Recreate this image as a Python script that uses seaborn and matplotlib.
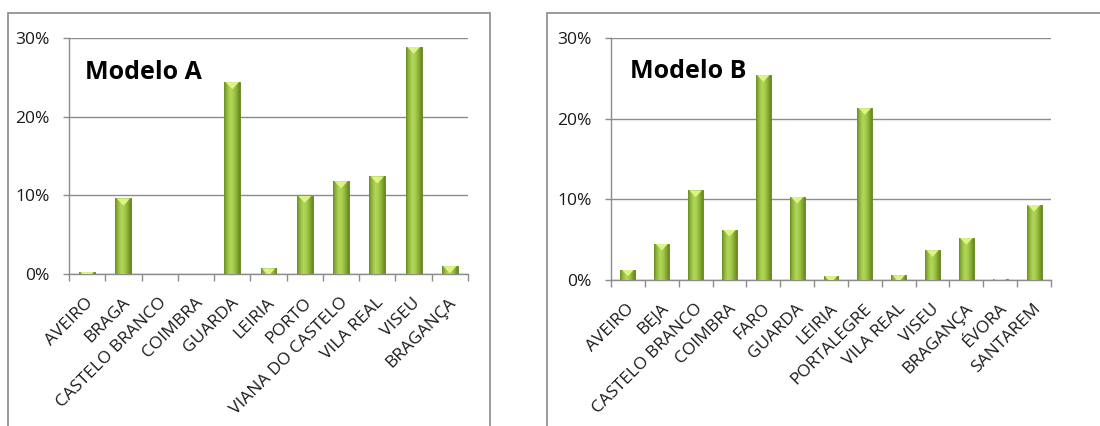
import numpy as np
import pandas as pd
import matplotlib
matplotlib.use("Agg")
import matplotlib.pyplot as plt
from matplotlib.colors import LinearSegmentedColormap
from matplotlib.patches import Polygon, Rectangle
from matplotlib.ticker import PercentFormatter, FixedLocator
from matplotlib.transforms import ScaledTranslation
import seaborn as sns

# --- data -------------------------------------------------------------
districts_a = ["AVEIRO", "BRAGA", "CASTELO BRANCO", "COIMBRA", "GUARDA", "LEIRIA",
               "PORTO", "VIANA DO CASTELO", "VILA REAL", "VISEU", "BRAGANÇA"]
share_a = [0.0025, 0.096, 0.0005, 0.0005, 0.244, 0.007,
           0.0995, 0.118, 0.124, 0.289, 0.010]

districts_b = ["AVEIRO", "BEJA", "CASTELO BRANCO", "COIMBRA", "FARO", "GUARDA", "LEIRIA",
               "PORTALEGRE", "VILA REAL", "VISEU", "BRAGANÇA", "ÉVORA", "SANTAREM"]
share_b = [0.013, 0.045, 0.111, 0.062, 0.254, 0.103, 0.005,
           0.213, 0.006, 0.037, 0.052, 0.001, 0.093]

titles = ["Modelo A", "Modelo B"]
y_ticks = [0.0, 0.1, 0.2, 0.3]

# --- style ------------------------------------------------------------
sns.set_theme(style="white")
plt.rcParams["font.family"] = ["Open Sans", "DejaVu Sans"]

GRID = "#8c8c8c"
FRAME = "#8a8a8a"
TEXT = "#1a1a1a"
LABEL_SIZE = 12.5
bar_cmap = LinearSegmentedColormap.from_list(
    "bar_green", ["#6a8c24", "#93bb3e", "#b2d65a", "#a6cc4e", "#87ad33", "#668622"])
TOP_FACE = "#dcf385"

fig = plt.figure(figsize=(11.0, 4.26), dpi=100)

# panel frames (chart-area borders)
for x0, x1 in [(8, 490), (547, 1110)]:
    fig.add_artist(Rectangle((x0 / 1100, -0.05), (x1 - x0) / 1100, (426 - 13) / 426 + 0.05,
                             transform=fig.transFigure, fill=False,
                             edgecolor=FRAME, linewidth=1.2))

axes_pos = [
    [69 / 1100, (426 - 274) / 426, 399 / 1100, 236 / 426],
    [611 / 1100, (426 - 280) / 426, 440 / 1100, 242 / 426],
]
title_pos = [(0.04, 0.826), (0.043, 0.835)]


def style_bars(ax):
    grad = np.linspace(0, 1, 256).reshape(1, -1)
    fig.canvas.draw()
    for patch in ax.patches:
        x, y = patch.get_x(), patch.get_y()
        w, h = patch.get_width(), patch.get_height()
        if h <= 0:
            continue
        im = ax.imshow(grad, cmap=bar_cmap, aspect="auto",
                       extent=(x, x + w, y, y + h), zorder=patch.get_zorder() + 0.1)
        im.set_clip_path(patch)
        # light bevel on the top face: downward-pointing triangle
        px_w = ax.transData.transform((x + w, 0))[0] - ax.transData.transform((x, 0))[0]
        data_per_px = (ax.get_ylim()[1] - ax.get_ylim()[0]) / ax.bbox.height
        tri_h = 0.45 * px_w * data_per_px
        tri = Polygon([(x + 0.08 * w, y + h), (x + 0.92 * w, y + h), (x + 0.5 * w, y + h - tri_h)],
                      closed=True, facecolor=TOP_FACE, edgecolor="none",
                      zorder=patch.get_zorder() + 0.2)
        ax.add_patch(tri)
        tri.set_clip_path(patch)
        patch.set_edgecolor("#62801f")
        patch.set_linewidth(0.6)


for i, (names, vals) in enumerate([(districts_a, share_a), (districts_b, share_b)]):
    ax = fig.add_axes(axes_pos[i])
    df = pd.DataFrame({"distrito": names, "valor": vals})
    sns.barplot(data=df, x="distrito", y="valor", color="#96bf40",
                width=0.44, ax=ax, zorder=3)
    n = len(names)
    ax.set_xlim(-0.5, n - 0.5)
    ax.set_ylim(0, 0.3)
    ax.set_xlabel("")
    ax.set_ylabel("")

    ax.yaxis.set_major_locator(FixedLocator(y_ticks))
    ax.yaxis.set_major_formatter(PercentFormatter(1.0, decimals=0))
    ax.grid(axis="y", color=GRID, linewidth=1.0, zorder=0)
    ax.set_axisbelow(True)

    for s in ["top", "right"]:
        ax.spines[s].set_visible(False)
    for s in ["left", "bottom"]:
        ax.spines[s].set_color(GRID)
        ax.spines[s].set_linewidth(1.0)

    ax.tick_params(axis="y", which="major", left=True, length=4, width=1,
                   color=GRID, labelsize=LABEL_SIZE, labelcolor=TEXT, pad=10)
    # category separators as downward ticks
    ax.xaxis.set_minor_locator(FixedLocator(np.arange(-0.5, n, 1.0)))
    ax.tick_params(axis="x", which="minor", bottom=True, length=5, width=1, color=GRID)
    ax.tick_params(axis="x", which="major", bottom=False, length=0,
                   labelsize=LABEL_SIZE, labelcolor=TEXT, pad=19)
    ax.set_xticks(range(n))
    ax.set_xticklabels(names, rotation=45, ha="right", va="center",
                       rotation_mode="anchor", fontsize=LABEL_SIZE, color=TEXT)
    shift = ScaledTranslation(4 / 100, 0, fig.dpi_scale_trans)
    for lab in ax.get_xticklabels():
        lab.set_transform(lab.get_transform() + shift)

    ax.text(title_pos[i][0], title_pos[i][1], titles[i], transform=ax.transAxes,
            fontsize=18, fontweight="bold", color="black", ha="left", va="baseline")

    style_bars(ax)

fig.savefig("out.png", dpi=100)
